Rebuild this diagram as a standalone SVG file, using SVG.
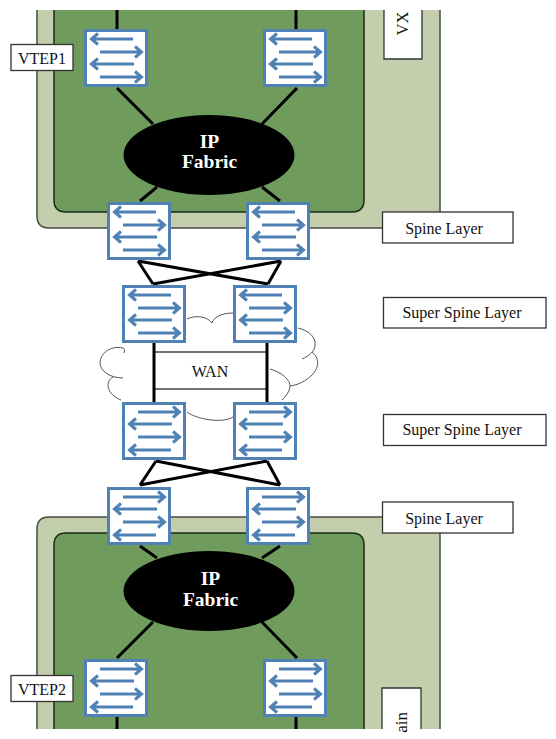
<svg xmlns="http://www.w3.org/2000/svg" width="556" height="739" viewBox="0 0 556 739">
<style>
.outer{fill:#c3cfac;stroke:#4a4a44;stroke-width:1.5}
.inner{fill:#6f9c5c;stroke:#1c2a18;stroke-width:1.5}
.sw{fill:#fff;stroke:#4f81b5;stroke-width:3}
.ar{fill:none;stroke:#4f81b5;stroke-width:3}
.link{stroke:#000;stroke-width:3;fill:none}
.lbl{fill:#fff;stroke:#333;stroke-width:1.3}
.t{font-family:"Liberation Serif","Times New Roman",serif;font-size:16px;fill:#111}
.ip{font-family:"Liberation Serif","Times New Roman",serif;font-size:19.5px;font-weight:bold;fill:#fff;text-anchor:middle}
.cloud{fill:none;stroke:#555;stroke-width:1}
</style>
<defs>
<g id="swUp">
<rect class="sw" x="1.500" y="1.500" width="61" height="55"/>
<path class="ar" d="M49 10H8M14 4.500L7.500 10L14 15.500M16 23H57M51 17.500L57.500 23L51 28.500M50 35H8M14 29.500L7.500 35L14 40.500M16 48H57M51 42.500L57.500 48L51 53.500"/>
</g>
<g id="swDown">
<rect class="sw" x="1.500" y="1.500" width="61" height="55"/>
<path class="ar" d="M16 10H57M51 4.500L57.500 10L51 15.500M50 22H8M14 16.500L7.500 22L14 27.500M16 35H57M51 29.500L57.500 35L51 40.500M49 48H8M14 42.500L7.500 48L14 53.500"/>
</g>
</defs>
<rect width="556" height="739" fill="#fff"/>
<g id="domain-top">
<path class="outer" d="M37 10V216Q37 228 49 228H440V10"/>
<path class="inner" d="M54 10V200Q54 212 66 212H352Q364 212 364 200V10"/>
</g>
<g id="domain-bottom">
<path class="outer" d="M37 729V529Q37 517 49 517H440V729"/>
<path class="inner" d="M54 729V545Q54 533 66 533H352Q364 533 364 545V729"/>
</g>
<g id="wan-cloud">
<path class="cloud" d="M124 353C125 350 124 348 123 348C110 345 100 354 100 363C100 371 110 378 123 378M113 377C105 381 106 394 121 400"/>
<path class="cloud" d="M187 319C195 315 207 316 212 323C214 316 224 313 233 313"/>
<path class="cloud" d="M298 328C310 331 316 338 315 345C315 351 309 356 302 359M312 352C319 357 320 367 312 375C306 381 298 385 290 386"/>
<path class="cloud" d="M270 369C281 372 291 380 290 387C289 393 285 397 282 400"/>
<path class="cloud" d="M187 412C196 419 222 424 233 417"/>
</g>
<g id="wan">
<rect x="154" y="352" width="113" height="37" fill="#fff" stroke="#444" stroke-width="1.500"/>
<text class="t" x="210" y="377" text-anchor="middle">WAN</text>
</g>
<g id="connectors">
<path class="link" d="M117 10V29M296 10V29M117 88L153 124M297 88L262 124M157 187L140 201M262 187L280 201"/>
<path class="link" d="M138 261L153 284M138 261L268 284M281 261L153 284M281 261L268 284"/>
<path class="link" d="M154 342V402M267 342V402"/>
<path class="link" d="M156 461L140 485M156 461L280 485M267 461L140 485M267 461L280 485"/>
<path class="link" d="M140 546L157 558M280 546L262 558M153 622L117 658M262 622L297 658M117 717V729M296 717V729"/>
</g>
<g id="fabric-top">
<ellipse cx="209" cy="155" rx="85.500" ry="40"/>
<text class="ip" x="209.500" y="148">IP</text>
<text class="ip" x="209.500" y="168">Fabric</text>
</g>
<g id="fabric-bottom">
<ellipse cx="209" cy="591" rx="85.500" ry="40"/>
<text class="ip" x="210.500" y="585">IP</text>
<text class="ip" x="210.500" y="606">Fabric</text>
</g>
<g id="vtep1-left"><use href="#swUp" x="84" y="29"/></g>
<g id="vtep1-right"><use href="#swUp" x="263" y="29"/></g>
<g id="spine-top-left"><use href="#swUp" x="107" y="202"/></g>
<g id="spine-top-right"><use href="#swUp" x="246" y="202"/></g>
<g id="super-top-left"><use href="#swUp" x="122" y="285"/></g>
<g id="super-top-right"><use href="#swUp" x="233" y="285"/></g>
<g id="super-bottom-left"><use href="#swDown" x="122" y="402"/></g>
<g id="super-bottom-right"><use href="#swDown" x="233" y="402"/></g>
<g id="spine-bottom-left"><use href="#swDown" x="107" y="487"/></g>
<g id="spine-bottom-right"><use href="#swDown" x="246" y="487"/></g>
<g id="vtep2-left"><use href="#swDown" x="84" y="659"/></g>
<g id="vtep2-right"><use href="#swDown" x="263" y="659"/></g>
<g id="label-vtep1"><rect class="lbl" x="11" y="44.500" width="62" height="26"/><text class="t" x="42" y="63.500" text-anchor="middle">VTEP1</text></g>
<g id="label-vtep2"><rect class="lbl" x="11" y="675.500" width="62" height="26"/><text class="t" x="42" y="694.500" text-anchor="middle">VTEP2</text></g>
<g id="label-spine-top"><rect class="lbl" x="382.500" y="212" width="130.500" height="31"/><text class="t" x="444" y="234" text-anchor="middle">Spine Layer</text></g>
<g id="label-super-top"><rect class="lbl" x="383.500" y="297.500" width="162.500" height="30.500"/><text class="t" x="462" y="318" text-anchor="middle">Super Spine Layer</text></g>
<g id="label-super-bottom"><rect class="lbl" x="383.500" y="414.500" width="162.500" height="31"/><text class="t" x="462" y="435" text-anchor="middle">Super Spine Layer</text></g>
<g id="label-spine-bottom"><rect class="lbl" x="382.500" y="502" width="130.500" height="31"/><text class="t" x="444" y="524" text-anchor="middle">Spine Layer</text></g>
<g id="label-domain-top">
<path class="lbl" d="M384 10V59H422V10"/>
<text class="t" transform="translate(408 35.500) rotate(-90)" style="font-size:16.500px">VX</text>
</g>
<g id="label-domain-bottom">
<path class="lbl" d="M382 729V688H421V729"/>
<text class="t" transform="translate(407 712) rotate(-90)" text-anchor="end" style="font-size:17px">ain</text>
</g>
</svg>
